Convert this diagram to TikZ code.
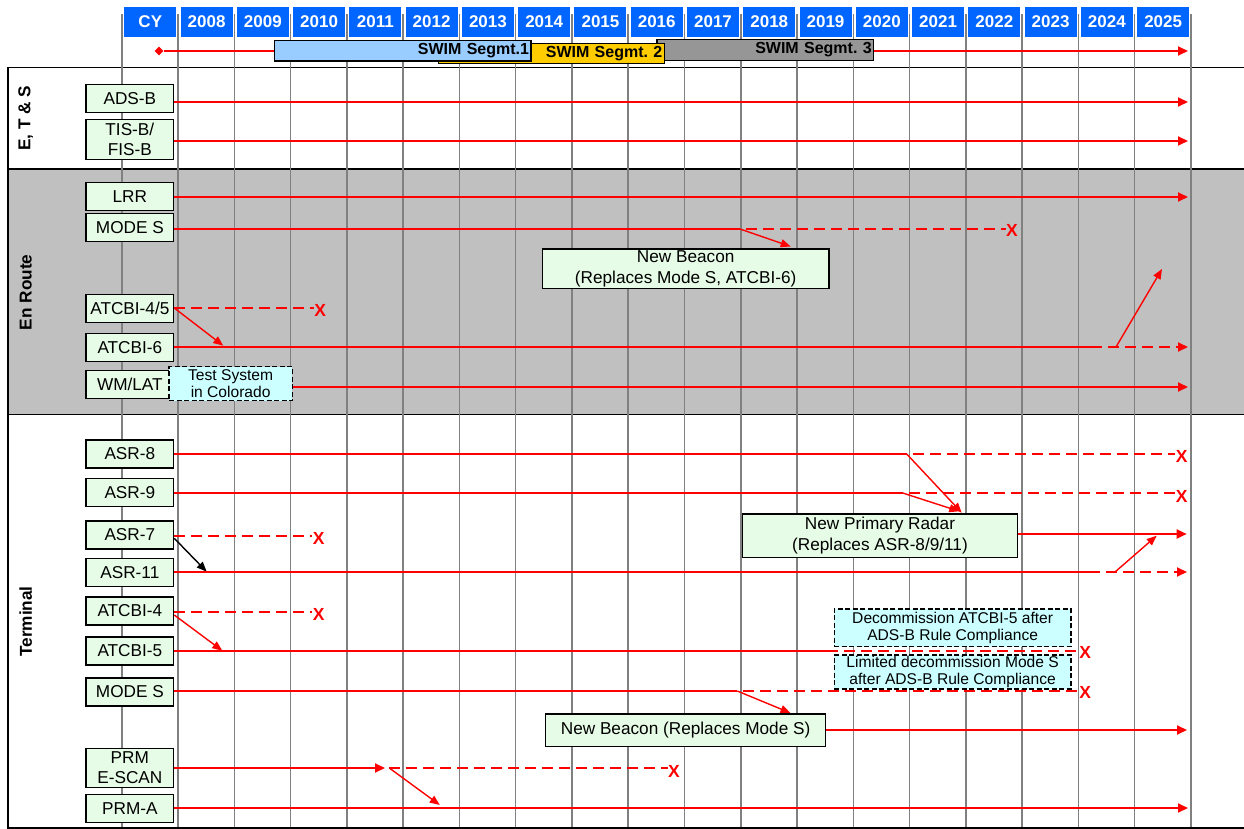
\documentclass[tikz,border=0pt]{standalone}
\usepackage{fontspec}
\setmainfont{Liberation Sans}
\usetikzlibrary{arrows.meta,shapes.geometric}
\definecolor{hdrblue}{RGB}{0,102,255}
\definecolor{lgreen}{RGB}{230,252,230}
\definecolor{bandgray}{RGB}{192,192,192}
\definecolor{gridgray}{RGB}{128,128,128}
\definecolor{swimA}{RGB}{153,204,255}
\definecolor{swimB}{RGB}{255,204,0}
\definecolor{swimC}{RGB}{150,150,150}
\definecolor{notecyan}{RGB}{204,255,255}
\definecolor{xred}{RGB}{255,0,0}
\begin{document}
\frenchspacing
\begin{tikzpicture}[x=1pt,y=-1pt,
  hdr/.style={fill=hdrblue, text=white, font=\fontsize{17}{18}\selectfont\bfseries, minimum width=52pt, minimum height=29.7pt, inner sep=0pt},
  lbl/.style={draw=black, line width=1.2pt, fill=lgreen, font=\fontsize{17.2}{20}\selectfont, minimum width=87.7pt, minimum height=28pt, inner sep=0pt, align=center},
  gbox/.style={draw=black, line width=1.2pt, fill=lgreen, font=\fontsize{17.2}{20.5}\selectfont, inner sep=0pt, align=center},
  note/.style={draw=black, line width=1.3pt, dash pattern=on 5pt off 2.5pt, fill=notecyan, font=\fontsize{15.6}{16.8}\selectfont, inner sep=0pt, align=center},
  swimbox/.style={draw=black, line width=1.1pt, font=\fontsize{16}{17}\selectfont\bfseries, inner xsep=2pt, inner ysep=0pt, align=right},
  seclbl/.style={font=\fontsize{17.2}{18}\selectfont\bfseries, rotate=90, inner sep=0pt},
  secbox/.style={draw=black, line width=1.6pt},
  gridline/.style={draw=gridgray, line width=1.5pt},
  rl/.style={draw=xred, line width=1.8pt},
  rarr/.style={rl, -{Triangle[length=10pt,width=9pt]}},
  rdash/.style={rl, dash pattern=on 11pt off 6pt},
  rdashc/.style={rl, dash pattern=on 11pt off 6pt, dash phase=11pt},
  rdarr/.style={rdashc, -{Triangle[length=10pt,width=9pt]}},
  brarr/.style={draw=xred, line width=1.4pt, -{Triangle[length=10pt,width=8pt]}},
  blkarr/.style={draw=black, line width=1.4pt, -{Triangle[length=10pt,width=8pt]}},
  xmark/.style={text=xred, font=\fontsize{17.5}{17.5}\selectfont\bfseries, inner sep=0pt}
]
\useasboundingbox (0,0) rectangle (1244,829);
\clip (0,0) rectangle (1244,829);

% sections
\draw[secbox, fill=white] (8,67.5) rectangle (1260,169);
\draw[secbox, fill=bandgray] (8,169) rectangle (1260,414.3);
\draw[secbox, fill=white] (8,414.3) rectangle (1260,827.7);

% grid
\foreach \k in {0,...,19} {
  \draw[gridline] ({121.8+56.27*\k},14) -- ({121.8+56.27*\k},827);
}

% header
\foreach \t [count=\k from 0] in {CY,2008,2009,2010,2011,2012,2013,2014,2015,2016,2017,2018,2019,2020,2021,2022,2023,2024,2025} {
  \node[hdr] (h\k) at ({121.8+56.27*\k+28.5},21.85) {\t};
}

% SWIM timeline
\node[diamond, fill=xred, minimum size=9pt, inner sep=0pt] (cyd) at (159,51) {};
\node[swimbox, fill=swimC, text width=212.7pt, minimum height=20.6pt] (swim3) at (765.35,50) {SWIM Segmt. 3};
\node[swimbox, fill=swimB, text width=222pt, minimum height=20pt] (swim2) at (551.3,53.3) {SWIM Segmt. 2};
\node[swimbox, fill=swimA, text width=252.3pt, minimum height=20.5pt] (swim1) at (402.85,50.75) {SWIM Segmt.1};
\coordinate (swimEnd) at (1188,51);
\draw[rl] (cyd.east) -- (swim1.west |- cyd);
\draw[rarr] (swim3.east |- swimEnd) -- (swimEnd);

% section labels
\node[seclbl] (etsL) at (25.7,118.3) {E, T \& S};
\node[seclbl] (erL) at (25.7,292.3) {En Route};
\node[seclbl] (trL) at (25.7,621.5) {Terminal};

% left boxes
\node[lbl] (adsb) at (129.85,98.5) {ADS-B};
\node[lbl, minimum height=39.6pt] (tisb) at (129.85,139.5) {TIS-B/\\FIS-B};
\node[lbl] (lrr) at (129.85,196.7) {LRR};
\node[lbl] (ermodes) at (129.85,227.7) {MODE S};
\node[lbl] (atcbi45) at (129.85,308.7) {ATCBI-4/5};
\node[lbl] (atcbi6e) at (129.85,347.2) {ATCBI-6};
\node[lbl] (wmlat) at (129.85,384.7) {WM/LAT};
\node[lbl] (asr8) at (129.85,454) {ASR-8};
\node[lbl] (asr9) at (129.85,492.7) {ASR-9};
\node[lbl] (asr7) at (129.85,534.9) {ASR-7};
\node[lbl] (asr11) at (129.85,572.3) {ASR-11};
\node[lbl] (atcbi4) at (129.85,611) {ATCBI-4};
\node[lbl] (atcbi5) at (129.85,650.9) {ATCBI-5};
\node[lbl] (tmodes) at (129.85,692) {MODE S};
\node[lbl, minimum height=39.4pt] (prme) at (129.85,768) {PRM\\E-SCAN};
\node[lbl] (prma) at (129.85,808.7) {PRM-A};

\node[note, minimum width=123.3pt, minimum height=34pt] (ts) at (230.65,383.7) {Test System\\in Colorado};

% ---- E, T & S lines
\coordinate (adsbEnd) at (1188,102);
\draw[rarr] (adsb.east |- adsbEnd) -- (adsbEnd);
\coordinate (tisbEnd) at (1188,141);
\draw[rarr] (tisb.east |- tisbEnd) -- (tisbEnd);

% ---- En Route lines
\coordinate (lrrEnd) at (1188,197);
\draw[rarr] (lrr.east |- lrrEnd) -- (lrrEnd);

\coordinate (emsBr) at (740,229);
\coordinate (emsD) at (1005.5,229);
\node[xmark] (emsX) at (1012,230) {X};
\draw[rl] (ermodes.east |- emsBr) -- (emsBr);
\draw[rdashc] (emsBr) -- (emsD);
\coordinate (nb1Tip) at (790.7,246.5);
\draw[brarr] (emsBr) -- (nb1Tip);

\coordinate (a45D) at (313.5,308);
\node[xmark] (a45X) at (320.3,310) {X};
\draw[rdash] (atcbi45.east |- a45D) -- (a45D);
\coordinate (a6Tip) at (223.3,345.7);
\draw[brarr] (atcbi45.east |- a45D) -- (a6Tip);

\coordinate (a6Sol) at (1101.7,347);
\coordinate (a6Br) at (1116,347);
\coordinate (a6End) at (1188,347);
\coordinate (a6Up) at (1162,269);
\draw[rl] (atcbi6e.east |- a6Sol) -- (a6Sol);
\draw[rdarr] (a6Sol) -- (a6End);
\draw[brarr] (a6Br) -- (a6Up);

\coordinate (wmEnd) at (1188,387);
\draw[rarr] (ts.east |- wmEnd) -- (wmEnd);

% ---- Terminal lines
\coordinate (a8Br) at (906.7,454);
\coordinate (a8D) at (1175,454);
\node[xmark] (a8X) at (1181.7,456.7) {X};
\draw[rl] (asr8.east |- a8Br) -- (a8Br);
\draw[rdashc] (a8Br) -- (a8D);
\coordinate (nprTipA) at (961.7,512.7);
\draw[brarr] (a8Br) -- (nprTipA);

\coordinate (a9Br) at (902.7,493);
\coordinate (a9D) at (1175,493);
\node[xmark] (a9X) at (1181.7,496) {X};
\draw[rl] (asr9.east |- a9Br) -- (a9Br);
\draw[rdashc] (a9Br) -- (a9D);
\coordinate (nprTipB) at (959.3,511.3);
\draw[brarr] (a9Br) -- (nprTipB);

\coordinate (a7D) at (312,536);
\node[xmark] (a7X) at (318.7,538.2) {X};
\draw[rdash] (asr7.east |- a7D) -- (a7D);
\coordinate (a11Tip) at (206.7,571.7);
\draw[blkarr] ([yshift=-3.4pt]asr7.east) -- (a11Tip);

\coordinate (a11Sol) at (1100,572);
\coordinate (a11Br) at (1115,572);
\coordinate (a11End) at (1187,572);
\coordinate (a11Up) at (1156.7,535.7);
\draw[rl] (asr11.east |- a11Sol) -- (a11Sol);
\draw[rdarr] (a11Sol) -- (a11End);
\draw[brarr] (a11Br) -- (a11Up);

\coordinate (a4D) at (312,612);
\node[xmark] (a4X) at (318.7,614.2) {X};
\draw[rdash] (atcbi4.east |- a4D) -- (a4D);
\coordinate (a5Tip) at (222.3,650.7);
\draw[brarr] ([yshift=-4pt]atcbi4.east) -- (a5Tip);

\coordinate (a5Sol) at (838,651);
\coordinate (a5D) at (1078.5,651);
\node[xmark] (a5X) at (1085.3,652.8) {X};
\draw[rl] (atcbi5.east |- a5Sol) -- (a5Sol);
\draw[rdashc] (a5Sol) -- (a5D);

\coordinate (tmsBr) at (737.3,691);
\coordinate (tmsD) at (1078.5,691);
\node[xmark] (tmsX) at (1085.3,692.5) {X};
\draw[rl] (tmodes.east |- tmsBr) -- (tmsBr);
\draw[rdashc] (tmsBr) -- (tmsD);
\coordinate (nb2Tip) at (790.5,713);
\draw[brarr] (tmsBr) -- (nb2Tip);

\coordinate (prmTip) at (385,768);
\coordinate (prmBr) at (389.3,768);
\coordinate (prmD) at (667.5,768);
\node[xmark] (prmX) at (674,771) {X};
\draw[rarr] (prme.east |- prmTip) -- (prmTip);
\draw[rdash] (prmBr) -- (prmD);
\coordinate (prmTip2) at (439.8,805);
\draw[brarr] (prmBr) -- (prmTip2);

\coordinate (prmaEnd) at (1188,808);
\draw[rarr] (prma.east |- prmaEnd) -- (prmaEnd);

% boxes in the chart
\node[gbox, minimum width=286.7pt, minimum height=39.7pt] (nb1) at (685.65,268.85) {New Beacon\\(Replaces Mode S, ATCBI-6)};
\node[gbox, minimum width=275.4pt, minimum height=43.3pt] (npr) at (880,535.65) {New Primary Radar\\(Replaces ASR-8/9/11)};
\node[gbox, minimum width=280pt, minimum height=32.7pt] (nb2) at (685.6,730.35) {New Beacon (Replaces Mode S)};
\node[note, minimum width=236.7pt, minimum height=37.7pt] (dc1) at (952.65,627.85) {Decommission ATCBI-5 after\\ADS-B Rule Compliance};
\node[note, minimum width=236.7pt, minimum height=34pt] (dc2) at (952.65,672) {Limited decommission Mode S\\after ADS-B Rule Compliance};

\coordinate (nprEnd) at (1186.7,534);
\draw[rarr] (npr.east |- nprEnd) -- (nprEnd);
\coordinate (nb2End) at (1187,730);
\draw[rarr] (nb2.east |- nb2End) -- (nb2End);
\end{tikzpicture}
\end{document}
